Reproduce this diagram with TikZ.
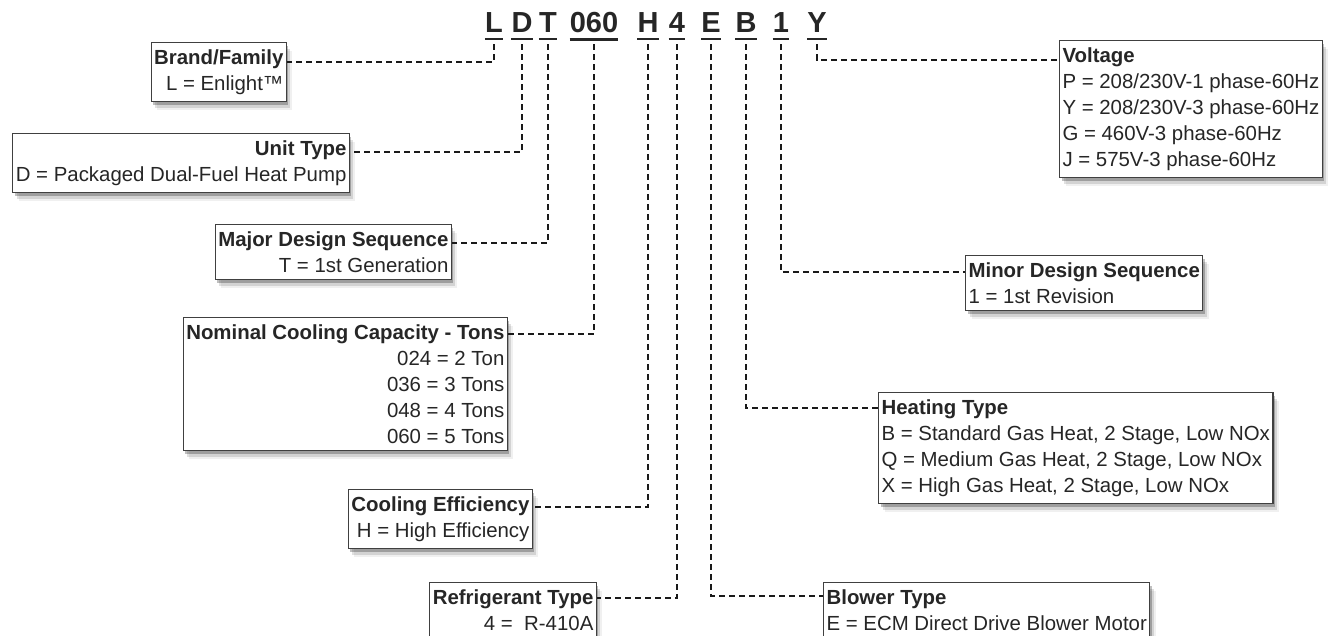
\documentclass[tikz,border=0pt]{standalone}
\usepackage{fontspec}
\setmainfont{Liberation Sans}
\usetikzlibrary{shadows}

\begin{document}
\begin{tikzpicture}[x=1pt, y=-1pt,
    code/.style={font=\fontsize{29}{30}\selectfont\bfseries, text=black!85, inner xsep=0pt, inner ysep=7pt, anchor=base},
    boxshadow/.style={drop shadow={shadow xshift=2pt, shadow yshift=-3pt, opacity=.25, fill=black},
                      drop shadow={shadow xshift=4pt, shadow yshift=-6pt, opacity=.12, fill=black},
                      drop shadow={shadow xshift=6pt, shadow yshift=-8pt, opacity=.06, fill=black}},
    lbox/.style={draw=black!75, line width=1.2pt, fill=white, inner xsep=3pt, inner ysep=7pt, font=\fontsize{20.4}{26}\selectfont, text=black!85, align=right, anchor=north east, boxshadow},
    rbox/.style={lbox, align=left, anchor=north west},
    uline/.style={line width=2.5pt, black!85},
    link/.style={line width=2.2pt, dash pattern=on 6pt off 4pt, black!90, shorten <=5pt},
]
    \useasboundingbox (0,0) rectangle (1335,635);
    \clip (0,0) rectangle (1335,635);

    \node[code] (cL)   at (494,32) {L};
    \node[code] (cD)   at (522,32) {D};
    \node[code] (cT)   at (548,32) {T};
    \node[code] (ccap) at (594,32) {060};
    \node[code] (cH)   at (648,32) {H};
    \node[code] (cR)   at (677,32) {4};
    \node[code] (cE)   at (711,32) {E};
    \node[code] (cB)   at (746,32) {B};
    \node[code] (cM)   at (781,32) {1};
    \node[code] (cY)   at (817,32) {Y};
    \foreach \c in {L,D,T,cap,H,R,E,B,M,Y}
        \draw[uline] (c\c.south west) -- (c\c.south east);

    \node[lbox] (brand)   at (287,42)  {\textbf{Brand/Family}\\L = Enlight™};
    \node[lbox] (unit)    at (350,133) {\textbf{Unit Type}\\D = Packaged Dual-Fuel Heat Pump};
    \node[lbox] (major)   at (452,224) {\textbf{Major Design Sequence}\\T = 1st Generation};
    \node[lbox] (nominal) at (508,317) {\textbf{Nominal Cooling Capacity - Tons}\\024 = 2 Ton\\036 = 3 Tons\\048 = 4 Tons\\060 = 5 Tons};
    \node[lbox] (cooling) at (533,489) {\textbf{Cooling Efficiency}\\H = High Efficiency};
    \node[lbox] (refrig)  at (597,582) {\textbf{Refrigerant Type}\\4 =\ \ R-410A};
    \node[rbox, anchor=north east] (volt) at (1323,40) {\textbf{Voltage}\\P = 208/230V-1 phase-60Hz\\Y = 208/230V-3 phase-60Hz\\G = 460V-3 phase-60Hz\\J = 575V-3 phase-60Hz};
    \node[rbox] (minor)   at (965,255) {\textbf{Minor Design Sequence}\\1 = 1st Revision};
    \node[rbox] (heating) at (878,392) {\textbf{Heating Type}\\B = Standard Gas Heat, 2 Stage, Low NOx\\Q = Medium Gas Heat, 2 Stage, Low NOx\\X = High Gas Heat, 2 Stage, Low NOx};
    \node[rbox] (blower)  at (823,582) {\textbf{Blower Type}\\E = ECM Direct Drive Blower Motor};

    \draw[link] (cL.south)   |- ([yshift=-20pt]brand.north east);
    \draw[link] (cD.south)   |- ([yshift=-19pt]unit.north east);
    \draw[link] (cT.south)   |- ([yshift=-19pt]major.north east);
    \draw[link] (ccap.south) |- ([yshift=-17pt]nominal.north east);
    \draw[link] (cH.south)   |- ([yshift=-18pt]cooling.north east);
    \draw[link] (cR.south)   |- ([yshift=-16pt]refrig.north east);
    \draw[link] (cE.south)   |- ([yshift=-14pt]blower.north west);
    \draw[link] (cB.south)   |- ([yshift=-16pt]heating.north west);
    \draw[link] (cM.south)   |- ([yshift=-17pt]minor.north west);
    \draw[link] (cY.south)   |- ([yshift=-20pt]volt.north west);
\end{tikzpicture}
\end{document}
